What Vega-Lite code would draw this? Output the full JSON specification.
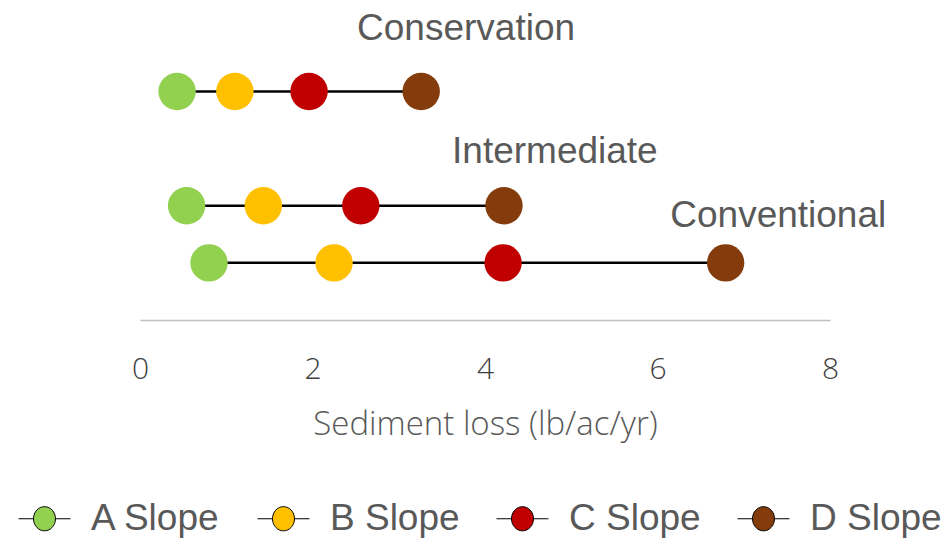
{
  "$schema": "https://vega.github.io/schema/vega-lite/v6.json",
  "width": 690,
  "height": 320,
  "autosize": "none",
  "padding": {"left": 140, "top": 0, "right": 117, "bottom": 227},
  "background": "white",
  "config": {"view": {"stroke": null}},
  "datasets": {
    "points": [
      {"system": "Conservation", "slope": "A Slope", "loss": 0.43, "level": 2},
      {"system": "Conservation", "slope": "B Slope", "loss": 1.10, "level": 2},
      {"system": "Conservation", "slope": "C Slope", "loss": 1.96, "level": 2},
      {"system": "Conservation", "slope": "D Slope", "loss": 3.26, "level": 2},
      {"system": "Intermediate", "slope": "A Slope", "loss": 0.54, "level": 1},
      {"system": "Intermediate", "slope": "B Slope", "loss": 1.43, "level": 1},
      {"system": "Intermediate", "slope": "C Slope", "loss": 2.56, "level": 1},
      {"system": "Intermediate", "slope": "D Slope", "loss": 4.22, "level": 1},
      {"system": "Conventional", "slope": "A Slope", "loss": 0.80, "level": 0.5},
      {"system": "Conventional", "slope": "B Slope", "loss": 2.25, "level": 0.5},
      {"system": "Conventional", "slope": "C Slope", "loss": 4.21, "level": 0.5},
      {"system": "Conventional", "slope": "D Slope", "loss": 6.79, "level": 0.5}
    ],
    "labels": [
      {"system": "Conservation", "lx": 3.78, "ly": 2.55},
      {"system": "Intermediate", "lx": 4.81, "ly": 1.47},
      {"system": "Conventional", "lx": 7.40, "ly": 0.91}
    ]
  },
  "layer": [
    {
      "data": {"name": "points"},
      "mark": {"type": "line", "color": "black", "strokeWidth": 2.5},
      "encoding": {
        "x": {
          "field": "loss", "type": "quantitative",
          "scale": {"domain": [0, 8]},
          "axis": {
            "values": [0, 2, 4, 6, 8],
            "format": "d",
            "grid": false, "ticks": false,
            "domain": true, "domainColor": "#bfbfbf", "domainWidth": 1.5,
            "labelFont": "Open Sans", "labelFontWeight": 300, "labelFontSize": 30,
            "labelColor": "#404040", "labelPadding": 34, "labelFlush": false,
            "title": "Sediment loss (lb/ac/yr)",
            "titleFont": "Open Sans", "titleFontWeight": 300, "titleFontSize": 33,
            "titleColor": "#595959", "titlePadding": 24
          }
        },
        "y": {"field": "level", "type": "quantitative", "scale": {"domain": [0, 2.8]}, "axis": null},
        "detail": {"field": "system"},
        "order": {"field": "loss"}
      }
    },
    {
      "data": {"name": "points"},
      "mark": {"type": "circle", "opacity": 1, "size": 1400},
      "encoding": {
        "x": {"field": "loss", "type": "quantitative"},
        "y": {"field": "level", "type": "quantitative"},
        "color": {
          "field": "slope", "type": "nominal",
          "scale": {
            "domain": ["A Slope", "B Slope", "C Slope", "D Slope"],
            "range": ["#92D050", "#FFC000", "#C00000", "#843C0C"]
          },
          "legend": {
            "title": null,
            "orient": "none",
            "legendX": -114,
            "legendY": 500,
            "direction": "horizontal",
            "columns": 4,
            "columnPadding": 34,
            "padding": 0,
            "symbolType": "M-2.36,0H-1M1,0H2.36M-1,0A1,1.1 0 1,1 1,0A1,1.1 0 1,1 -1,0Z",
            "symbolSize": 484,
            "symbolStrokeColor": "black",
            "symbolStrokeWidth": 1,
            "symbolOpacity": 1,
            "labelOffset": 28,
            "labelFont": "Liberation Sans",
            "labelFontSize": 37,
            "labelColor": "#595959",
            "labelLimit": 300
          }
        }
      }
    },
    {
      "data": {"name": "labels"},
      "mark": {"type": "text", "font": "Liberation Sans", "fontSize": 37, "color": "#595959", "align": "center", "baseline": "middle"},
      "encoding": {
        "x": {"field": "lx", "type": "quantitative"},
        "y": {"field": "ly", "type": "quantitative"},
        "text": {"field": "system"}
      }
    }
  ]
}
